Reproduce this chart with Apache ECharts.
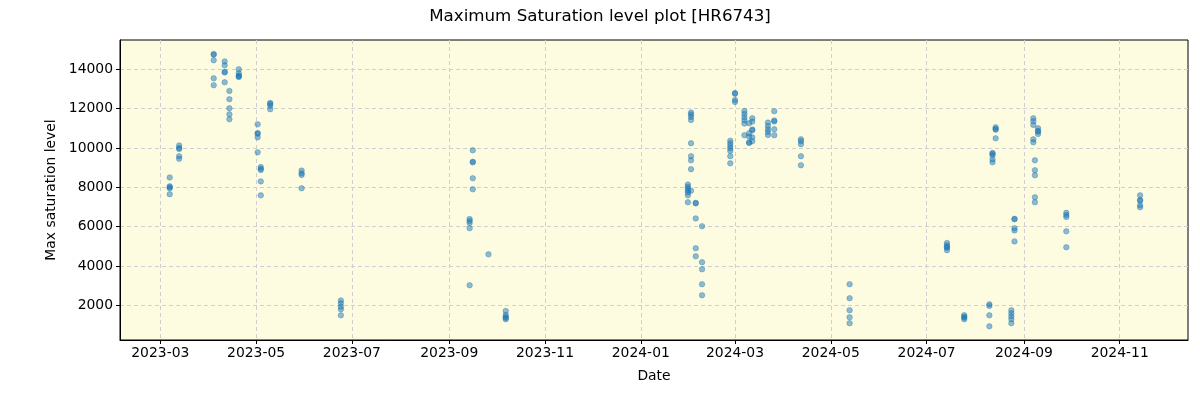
<!DOCTYPE html>
<html>
<head>
<meta charset="utf-8">
<script src="https://cdn.jsdelivr.net/npm/echarts@6/dist/echarts.min.js"></script>
<style>html,body{margin:0;padding:0;background:#fff}#c{width:1200px;height:400px}</style>
</head>
<body>
<div id="c"></div>
<script>
const titleText = 'Maximum Saturation level plot [HR6743]';
const xName = 'Date';
const yName = 'Max saturation level';

const dates = [
  '2023-03-07','2023-03-13','2023-04-04','2023-04-11','2023-04-14','2023-04-20',
  '2023-05-02','2023-05-04','2023-05-10','2023-05-30','2023-06-24',
  '2023-09-14','2023-09-16','2023-09-26','2023-10-07',
  '2024-01-31','2024-02-02','2024-02-05','2024-02-09','2024-02-27',
  '2024-03-01','2024-03-07','2024-03-10','2024-03-12','2024-03-22','2024-03-26',
  '2024-04-12','2024-05-13','2024-07-14','2024-07-25','2024-08-10','2024-08-12',
  '2024-08-14','2024-08-24','2024-08-26','2024-09-07','2024-09-08','2024-09-10',
  '2024-09-28','2024-11-14'
];

const values = [
  [8500, 8050, 8000, 7950, 7650],
  [10130, 10000, 9950, 9580, 9450],
  [14780, 14740, 14460, 13540, 13190],
  [14400, 14200, 13870, 13840, 13340],
  [12900, 12480, 12020, 11710, 11460],
  [14000, 13800, 13680, 13640, 13610],
  [11200, 10760, 10720, 10540, 9780],
  [9030, 8940, 8880, 8300, 7590],
  [12290, 12250, 12150, 11970],
  [8850, 8710, 8630, 7950],
  [2250, 2100, 1930, 1800, 1490],
  [6390, 6290, 6190, 5920, 3020],
  [9880, 9300, 9270, 8460, 7900],
  [4590],
  [1710, 1510, 1410, 1360, 1290],
  [8140, 8030, 7930, 7830, 7730, 7590, 7240],
  [11800, 11700, 11580, 11420, 10240, 9580, 9370, 8920, 7830],
  [7210, 7180, 6420, 4900, 4490],
  [6020, 4190, 3830, 3070, 2510],
  [10370, 10240, 10100, 9980, 9850, 9580, 9220],
  [12790, 12760, 12440, 12340],
  [11880, 11730, 11560, 11410, 11240, 10650],
  [11260, 10750, 10580, 10290, 10250],
  [11510, 11340, 10940, 10900, 10540, 10340],
  [11290, 11120, 10950, 10810, 10660],
  [11870, 11400, 11350, 10950, 10650],
  [10440, 10340, 10190, 9580, 9120],
  [3070, 2360, 1750, 1390, 1090],
  [5170, 5050, 4960, 4930, 4800],
  [1500, 1420, 1370, 1290],
  [2050, 1970, 1490, 930],
  [9750, 9710, 9630, 9420, 9270],
  [11050, 10970, 10930, 10490],
  [1750, 1590, 1440, 1290, 1090],
  [6400, 6370, 5920, 5810, 5250],
  [11510, 11360, 11170, 10440, 10290],
  [9370, 8870, 8610, 7490, 7240],
  [11000, 10870, 10830, 10710],
  [6700, 6590, 6490, 5760, 4950],
  [7590, 7360, 7320, 7090, 6980]
];

const xTickLabels = ['2023-03','2023-05','2023-07','2023-09','2023-11','2024-01','2024-03','2024-05','2024-07','2024-09','2024-11'];
const yTickLabels = [2000, 4000, 6000, 8000, 10000, 12000, 14000];

function ts(s) { const p = s.split('-').map(Number); return Date.UTC(p[0], p[1] - 1, p[2] || 1); }

const points = [];
dates.forEach((d, i) => values[i].forEach(v => points.push([ts(d), v])));
const xTicks = xTickLabels.map(ts);

const xMin = Date.UTC(2023, 1, 3, 8);
const xMax = Date.UTC(2024, 11, 14, 12);

const font = 'DejaVu Sans';
const chart = echarts.init(document.getElementById('c'), null, {renderer: 'canvas'});
chart.setOption({
  animation: false,
  backgroundColor: '#ffffff',
  textStyle: {fontFamily: font},
  title: {
    text: titleText, left: 'center', top: 8, padding: 0,
    textStyle: {fontFamily: font, fontSize: 16.7, fontWeight: 'normal', color: '#000'}
  },
  grid: {
    left: 120, right: 12, top: 40, bottom: 60,
    show: true, backgroundColor: '#fdfce1', borderColor: '#000', borderWidth: 1
  },
  xAxis: {
    type: 'value', min: xMin, max: xMax, scale: true,
    name: xName, nameLocation: 'middle', nameGap: 29,
    nameTextStyle: {fontFamily: font, fontSize: 13.9, color: '#000'},
    axisLine: {show: true, onZero: false, lineStyle: {color: '#000', width: 1}},
    axisTick: {show: true, length: 4, lineStyle: {color: '#000'}, customValues: xTicks},
    axisLabel: {
      show: true, margin: 6, fontFamily: font, fontSize: 13.9, color: '#000',
      customValues: xTicks,
      formatter: function (v) {
        const d = new Date(v);
        return d.getUTCFullYear() + '-' + String(d.getUTCMonth() + 1).padStart(2, '0');
      }
    },
    splitLine: {show: true, lineStyle: {color: '#cfcfcf', type: [4, 3], width: 1}}
  },
  yAxis: {
    type: 'value', min: 236, max: 15490,
    name: yName, nameLocation: 'middle', nameGap: 58, nameRotate: 90,
    nameTextStyle: {fontFamily: font, fontSize: 13.9, color: '#000'},
    axisLine: {show: true, onZero: false, lineStyle: {color: '#000', width: 1}},
    axisTick: {show: true, length: 4, lineStyle: {color: '#000'}, customValues: yTickLabels},
    axisLabel: {
      show: true, margin: 7, fontFamily: font, fontSize: 13.9, color: '#000', customValues: yTickLabels,
      formatter: function (v) { return String(Math.round(v)); }
    },
    splitLine: {show: true, lineStyle: {color: '#cfcfcf', type: [4, 3], width: 1}}
  },
  series: [{
    type: 'scatter',
    data: points,
    symbol: 'circle',
    symbolSize: 5.5,
    itemStyle: {color: 'rgba(31,119,180,0.62)', borderColor: 'rgba(31,119,180,0.75)', borderWidth: 0.6}
  }]
});
</script>
</body>
</html>
